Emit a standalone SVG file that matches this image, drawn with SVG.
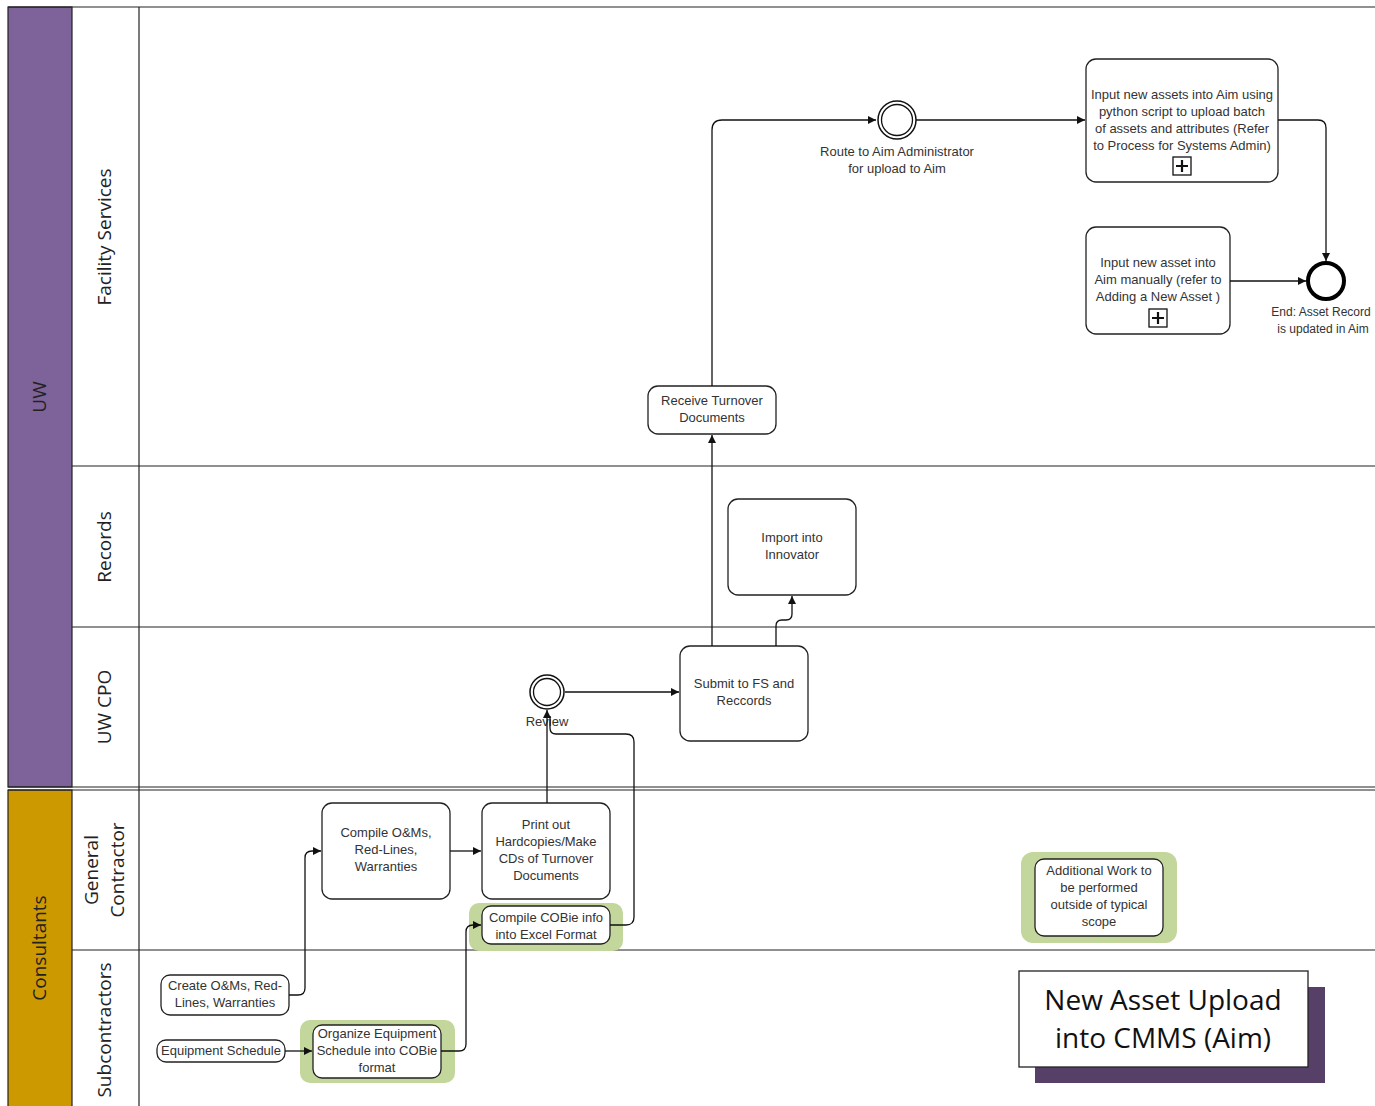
<svg xmlns="http://www.w3.org/2000/svg" width="1375" height="1106" viewBox="0 0 1375 1106">
<style>
.t{font-family:"Liberation Sans",Arial,sans-serif;font-size:13px;fill:#333;text-anchor:middle}
.lane{font-family:"Open Sans","Liberation Sans",sans-serif;font-size:19px;fill:#222;text-anchor:middle}
.box{fill:#fff;stroke:#222;stroke-width:1.3}
.hl{fill:#c3d69b;stroke:none}
.c{fill:none;stroke:#111;stroke-width:1.3}
.ln{stroke:#222;stroke-width:1.2;fill:none}
</style>
<defs>
<marker id="a" viewBox="0 0 10 10" refX="10" refY="5" markerWidth="8" markerHeight="8" markerUnits="userSpaceOnUse" orient="auto"><path d="M0,0 L10,5 L0,10 z" fill="#111"/></marker>
</defs>
<rect width="1375" height="1106" fill="#fff"/>
<g id="pools">
<rect x="8" y="7" width="64" height="780" fill="#7d6399" stroke="#222" stroke-width="1.2"/>
<rect x="8" y="790" width="64" height="320" fill="#cc9900" stroke="#222" stroke-width="1.2"/>
<line class="ln" x1="8" y1="7" x2="1375" y2="7"/>
<line class="ln" x1="72" y1="466" x2="1375" y2="466"/>
<line class="ln" x1="72" y1="627" x2="1375" y2="627"/>
<line class="ln" x1="8" y1="787" x2="1375" y2="787"/>
<line class="ln" x1="8" y1="790" x2="1375" y2="790"/>
<line class="ln" x1="72" y1="950" x2="1375" y2="950"/>
<line class="ln" x1="139" y1="7" x2="139" y2="1106"/>
<text class="lane" transform="translate(46,397) rotate(-90)">UW</text>
<text class="lane" transform="translate(111,237) rotate(-90)">Facility Services</text>
<text class="lane" transform="translate(111,547) rotate(-90)">Records</text>
<text class="lane" transform="translate(111,707) rotate(-90)">UW CPO</text>
<text class="lane" transform="translate(46,948) rotate(-90)">Consultants</text>
<text class="lane" transform="translate(98,870) rotate(-90)">General</text>
<text class="lane" transform="translate(124,870) rotate(-90)">Contractor</text>
<text class="lane" transform="translate(111,1030) rotate(-90)">Subcontractors</text>
</g>
<g id="n_input_batch">
<rect class="box" x="1086" y="59" width="192" height="123" rx="10"/>
<text class="t" x="1182" y="99">Input new assets into Aim using</text>
<text class="t" x="1182" y="116">python script to upload batch</text>
<text class="t" x="1182" y="133">of assets and attributes (Refer</text>
<text class="t" x="1182" y="150">to Process for Systems Admin)</text>
<rect x="1173" y="157" width="18" height="18" fill="#fff" stroke="#111" stroke-width="1.3"/>
<path d="M1182,160 V172 M1176,166 H1188" stroke="#111" stroke-width="2.2"/>
</g>
<g id="n_route">
<circle cx="897" cy="120" r="19" fill="#fff" stroke="#111" stroke-width="1.5"/>
<circle cx="897" cy="120" r="15.5" fill="#fff" stroke="#111" stroke-width="1.3"/>
<text class="t" x="897" y="156">Route to Aim Administrator</text>
<text class="t" x="897" y="173">for upload to Aim</text>
</g>
<g id="n_input_manual">
<rect class="box" x="1086" y="227" width="144" height="107" rx="10"/>
<text class="t" x="1158" y="267">Input new asset into</text>
<text class="t" x="1158" y="284">Aim manually (refer to</text>
<text class="t" x="1158" y="301">Adding a New Asset )</text>
<rect x="1149" y="309" width="18" height="18" fill="#fff" stroke="#111" stroke-width="1.3"/>
<path d="M1158,312 V324 M1152,318 H1164" stroke="#111" stroke-width="2.2"/>
</g>
<g id="n_end">
<circle cx="1326" cy="281" r="18" fill="#fff" stroke="#000" stroke-width="4"/>
<text class="t" x="1321" y="316" style="font-size:12px">End: Asset Record</text>
<text class="t" x="1323" y="333" style="font-size:12px">is updated in Aim</text>
</g>
<g id="n_receive">
<rect class="box" x="648" y="386" width="128" height="48" rx="10"/>
<text class="t" x="712" y="405">Receive Turnover</text>
<text class="t" x="712" y="422">Documents</text>
</g>
<g id="n_import">
<rect class="box" x="728" y="499" width="128" height="96" rx="10"/>
<text class="t" x="792" y="542">Import into</text>
<text class="t" x="792" y="559">Innovator</text>
</g>
<g id="n_submit">
<rect class="box" x="680" y="646" width="128" height="95" rx="10"/>
<text class="t" x="744" y="688">Submit to FS and</text>
<text class="t" x="744" y="705">Reccords</text>
</g>
<g id="n_review">
<circle cx="547" cy="692" r="17" fill="#fff" stroke="#111" stroke-width="1.5"/>
<circle cx="547" cy="692" r="13.5" fill="#fff" stroke="#111" stroke-width="1.3"/>
<text class="t" x="547" y="726">Review</text>
</g>
<g id="n_compile_om">
<rect class="box" x="322" y="803" width="128" height="96" rx="10"/>
<text class="t" x="386" y="837">Compile O&amp;Ms,</text>
<text class="t" x="386" y="854">Red-Lines,</text>
<text class="t" x="386" y="871">Warranties</text>
</g>
<g id="n_print">
<rect class="box" x="482" y="803" width="128" height="96" rx="10"/>
<text class="t" x="546" y="829">Print out</text>
<text class="t" x="546" y="846">Hardcopies/Make</text>
<text class="t" x="546" y="863">CDs of Turnover</text>
<text class="t" x="546" y="880">Documents</text>
</g>
<g id="n_cobie">
<rect class="hl" x="469" y="903" width="154" height="48" rx="10"/>
<rect class="box" x="482" y="906" width="128" height="38" rx="9"/>
<text class="t" x="546" y="922">Compile COBie info</text>
<text class="t" x="546" y="939">into Excel Format</text>
</g>
<g id="n_create">
<rect class="box" x="161" y="975" width="128" height="40" rx="9"/>
<text class="t" x="225" y="990">Create O&amp;Ms, Red-</text>
<text class="t" x="225" y="1007">Lines, Warranties</text>
</g>
<g id="n_equip">
<rect class="box" x="157" y="1040" width="128" height="22" rx="9"/>
<text class="t" x="221" y="1055">Equipment Schedule</text>
</g>
<g id="n_organize">
<rect class="hl" x="300" y="1020" width="155" height="63" rx="10"/>
<rect class="box" x="313" y="1025" width="128" height="53" rx="9"/>
<text class="t" x="377" y="1038">Organize Equipment</text>
<text class="t" x="377" y="1055">Schedule into COBie</text>
<text class="t" x="377" y="1072">format</text>
</g>
<g id="n_additional">
<rect class="hl" x="1021" y="852" width="156" height="91" rx="12"/>
<rect class="box" x="1035" y="859" width="128" height="77" rx="9"/>
<text class="t" x="1099" y="875">Additional  Work to</text>
<text class="t" x="1099" y="892">be performed</text>
<text class="t" x="1099" y="909">outside of typical</text>
<text class="t" x="1099" y="926">scope</text>
</g>
<g id="n_title">
<rect x="1035" y="987" width="290" height="96" fill="#574068"/>
<rect x="1019" y="971" width="289" height="96" fill="#fff" stroke="#222" stroke-width="1.3"/>
<text x="1163" y="1010" style="font-family:'Open Sans','Liberation Sans',sans-serif;font-size:28px;fill:#111;text-anchor:middle">New Asset Upload</text>
<text x="1163" y="1048" style="font-family:'Open Sans','Liberation Sans',sans-serif;font-size:28px;fill:#111;text-anchor:middle">into CMMS (Aim)</text>
</g>
<g id="connectors">
<path class="c" d="M712,386 V130 Q712,120 722,120 H876" marker-end="url(#a)"/>
<path class="c" d="M916,120 H1085" marker-end="url(#a)"/>
<path class="c" d="M1278,120 H1318 Q1326,120 1326,128 V261" marker-end="url(#a)"/>
<path class="c" d="M1230,281 H1306" marker-end="url(#a)"/>
<path class="c" d="M712,646 V435" marker-end="url(#a)"/>
<path class="c" d="M776,646 V626 Q776,620 782,620 H786 Q792,620 792,614 V596" marker-end="url(#a)"/>
<path class="c" d="M565,692 H679" marker-end="url(#a)"/>
<path class="c" d="M547,803 V710" marker-end="url(#a)"/>
<path class="c" d="M610,925 H626 Q634,925 634,917 V742 Q634,734 626,734 H556 Q550,734 550,728 V716"/>
<path class="c" d="M289,995 H298 Q305,995 305,988 V858 Q305,851 312,851 H321" marker-end="url(#a)"/>
<path class="c" d="M450,851 H481" marker-end="url(#a)"/>
<path class="c" d="M285,1051 H312" marker-end="url(#a)"/>
<path class="c" d="M441,1051 H459 Q466,1051 466,1044 V932 Q466,925 473,925 H481" marker-end="url(#a)"/>
</g>
</svg>
